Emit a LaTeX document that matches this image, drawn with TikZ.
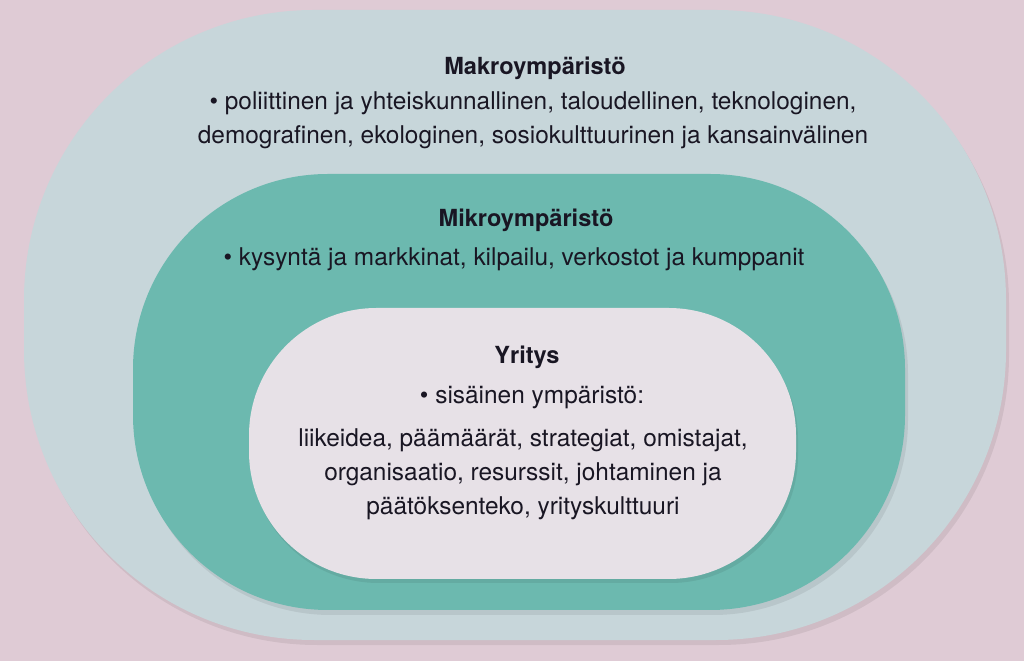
\documentclass[tikz,border=0pt]{standalone}
\usepackage{fontspec}
\setmainfont{TeX Gyre Heros}
\definecolor{paper}{RGB}{223,203,213}
\definecolor{makrofill}{RGB}{199,214,218}
\definecolor{mikrofill}{RGB}{108,185,175}
\definecolor{yritysfill}{RGB}{231,225,231}
\definecolor{ink}{RGB}{25,22,35}

\begin{document}
\begin{tikzpicture}[x=0.02cm,y=-0.02cm,
    shade/.style={black,opacity=0.07},
    head/.style={text=ink,inner sep=0pt,font=\fontsize{13.4}{19}\selectfont\bfseries},
    body/.style={text=ink,inner sep=0pt,align=center,font=\fontsize{13.9}{19.3}\selectfont}]
    \fill[paper] (0,0) rectangle (1024,661);
    \useasboundingbox (0,0) rectangle (1024,661);

    \fill[shade,rounded corners=5.8cm] (27,15) rectangle (1009,645);
    \fill[makrofill,rounded corners=5.8cm] (24,10) rectangle (1006,640);
    \fill[shade,rounded corners=3.9cm] (136,179) rectangle (908,615);
    \fill[mikrofill,rounded corners=3.9cm] (133,174) rectangle (905,610);
    \fill[shade,rounded corners=2.55cm] (251,312) rectangle (798,583);
    \fill[yritysfill,rounded corners=2.55cm] (249,308) rectangle (796,579);

    \node[head] (makro) at (535,68) {Makroympäristö};
    \node[body] (makrolist) at (533,120) {\textbullet{} poliittinen ja yhteiskunnallinen, taloudellinen, teknologinen,\\demografinen, ekologinen, sosiokulttuurinen ja kansainvälinen};
    \node[head] (mikro) at (526,220) {Mikroympäristö};
    \node[body] (mikrolist) at (514,259) {\textbullet{} kysyntä ja markkinat, kilpailu, verkostot ja kumppanit};
    \node[head] (yritys) at (527,357) {Yritys};
    \node[body] (yrityslist) at (532,398) {\textbullet{} sisäinen ympäristö:};
    \node[body] (sisainen) at (523,474) {liikeidea, päämäärät, strategiat, omistajat,\\organisaatio, resurssit, johtaminen ja\\päätöksenteko, yrityskulttuuri};
\end{tikzpicture}
\end{document}
